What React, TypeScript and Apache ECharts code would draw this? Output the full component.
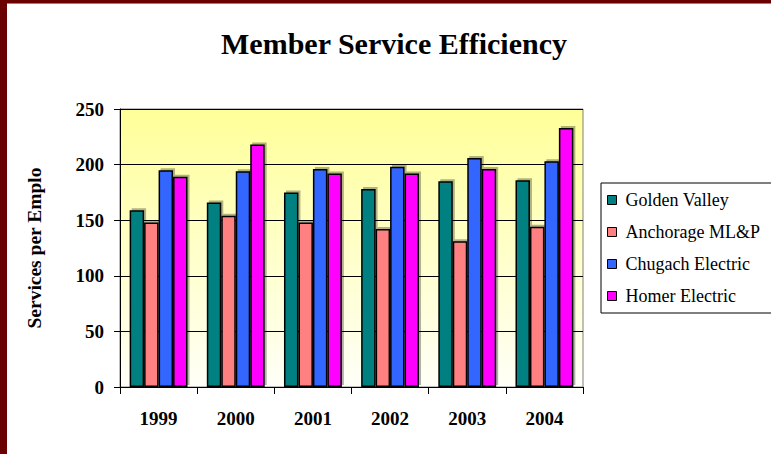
import React, { useEffect, useRef } from "react";
import * as echarts from "echarts";

const categories = ["1999", "2000", "2001", "2002", "2003", "2004"];
const seriesNames = ["Golden Valley", "Anchorage ML&P", "Chugach Electric", "Homer Electric"];
const goldenValley = [159, 166, 175, 178, 185, 186];
const anchorage = [148, 154, 148, 142, 131, 144];
const chugach = [195, 194, 196, 198, 206, 203];
const homer = [189, 218, 192, 192, 196, 233];
const colors = ["#008080", "#ff8080", "#3366ff", "#ff00ff"];
const yTicks = { min: 0, max: 250, interval: 50 };

const FONT = "'Liberation Serif', 'Times New Roman', serif";

export default function App() {
  const ref = useRef<HTMLDivElement>(null);
  useEffect(() => {
    document.body.style.margin = "0";
    const chart = echarts.init(ref.current!, null, { renderer: "svg" });
    const data = [goldenValley, anchorage, chugach, homer];
    chart.setOption({
      animation: false,
      backgroundColor: "#ffffff",
      title: {
        text: "Member Service Efficiency",
        left: 389,
        textAlign: "center",
        top: 23,
        textStyle: { fontFamily: FONT, fontSize: 30, fontWeight: "bold", color: "#000" },
      },
      graphic: [
        { type: "rect", left: 0, top: 0, shape: { width: 7, height: 454 }, style: { fill: "#6b0000" }, z: 100 },
        { type: "rect", left: 0, top: 0, shape: { width: 771, height: 3 }, style: { fill: "#6b0000" }, z: 100 },
        { type: "line", shape: { x1: 7, y1: 3.5, x2: 771, y2: 3.5 }, style: { stroke: "#888", lineWidth: 1 }, z: 100 },
      ],
      legend: {
        orient: "vertical",
        left: 601,
        top: 183,
        padding: [8, 12, 8, 6],
        itemWidth: 9,
        itemHeight: 9,
        itemGap: 14,
        borderColor: "#000",
        borderWidth: 1,
        icon: "rect",
        textStyle: { fontFamily: FONT, fontSize: 18, color: "#000", padding: [0, 0, 0, 4] },
        itemStyle: { borderColor: "#000", borderWidth: 1, shadowColor: "transparent", shadowBlur: 0, shadowOffsetX: 0, shadowOffsetY: 0 },
        data: seriesNames,
      },
      grid: {
        left: 120,
        top: 109,
        right: 188,
        bottom: 67,
        show: true,
        borderColor: "#808080",
        borderWidth: 1,
        backgroundColor: new echarts.graphic.LinearGradient(0, 0, 0, 1, [
          { offset: 0, color: "#ffff99" },
          { offset: 1, color: "#fffff8" },
        ]),
      },
      xAxis: {
        type: "category",
        data: categories,
        axisLine: { show: true, lineStyle: { color: "#000", width: 1 } },
        axisTick: { show: true, length: 7, alignWithLabel: false, lineStyle: { color: "#000" } },
        axisLabel: { fontFamily: FONT, fontSize: 19, fontWeight: "bold", color: "#000", margin: 22 },
        splitLine: { show: false },
      },
      yAxis: {
        type: "value",
        min: yTicks.min,
        max: yTicks.max,
        interval: yTicks.interval,
        name: "Services per Emplo",
        nameLocation: "middle",
        nameRotate: 90,
        nameGap: 76,
        nameTextStyle: { fontFamily: FONT, fontSize: 19.5, fontWeight: "bold", color: "#000" },
        axisLine: { show: true, lineStyle: { color: "#000", width: 1 } },
        axisTick: { show: true, length: 6, lineStyle: { color: "#000" } },
        axisLabel: { fontFamily: FONT, fontSize: 19, fontWeight: "bold", color: "#000", margin: 16 },
        splitLine: { show: true, lineStyle: { color: "#000", width: 1 } },
      },
      series: seriesNames.map((name, i) => ({
        name,
        type: "bar",
        data: data[i],
        barGap: "0%",
        barCategoryGap: "25%",
        itemStyle: {
          color: colors[i],
          borderColor: "#000",
          borderWidth: 1.5,
          shadowColor: "rgba(0,0,0,0.3)",
          shadowBlur: 0,
          shadowOffsetX: 2,
          shadowOffsetY: -2,
        },
      })),
    });
    return () => chart.dispose();
  }, []);
  return <div ref={ref} style={{ position: "absolute", left: 0, top: 0, width: 771, height: 454 }} />;
}
